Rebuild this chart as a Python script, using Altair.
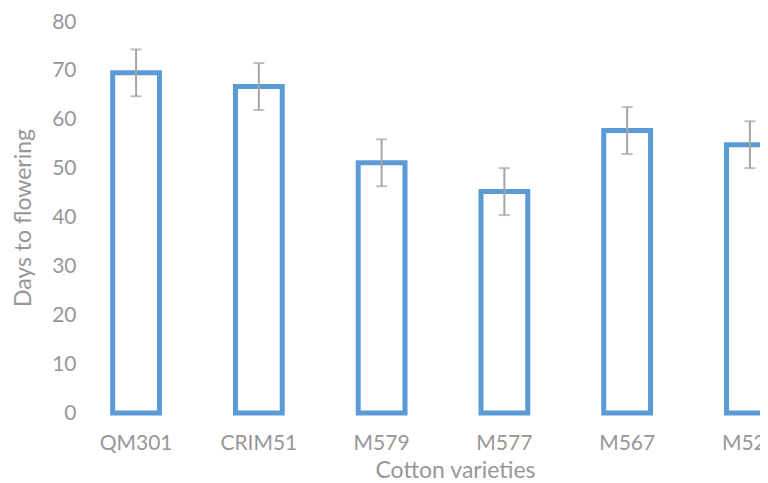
import altair as alt
import pandas as pd

varieties = ["QM301", "CRIM51", "M579", "M577", "M567", "M525"]
days = [69.6, 66.8, 51.2, 45.3, 57.8, 54.9]
errors = [4.8, 4.8, 4.8, 4.8, 4.8, 4.8]

df = pd.DataFrame({"variety": varieties, "days": days, "err": errors})
df["lo"] = df["days"] - df["err"]
df["hi"] = df["days"] + df["err"]

FONT = "Lato"
TXT = "#979797"
ERR = "#A5A5A5"

xscale = alt.Scale(paddingInner=0.619, paddingOuter=0.25, range=[0, 722])
x = alt.X("variety:N", sort=varieties, title="Cotton varieties", scale=xscale,
          axis=alt.Axis(labelAngle=0, domain=False, ticks=False, tickSize=0,
                        labelPadding=19, labelFontSize=21, labelColor=TXT,
                        labelFont=FONT, titleFont=FONT, titleFontSize=23,
                        titleColor=TXT, titleFontWeight="normal",
                        titleX=373, titleY=64, titleAlign="center",
                        titleBaseline="alphabetic"))
y_axis = alt.Axis(values=list(range(0, 81, 10)), domain=False, ticks=False, tickSize=0,
                  grid=False, labelPadding=6, labelFontSize=21, labelColor=TXT,
                  labelFont=FONT, titleFont=FONT, titleFontSize=23, titleColor=TXT,
                  titleFontWeight="normal", titlePadding=16)

bars = alt.Chart(df).mark_bar(fill="white", stroke="#5B9BD5", strokeWidth=5).encode(
    x=x,
    y=alt.Y("days:Q", title="Days to flowering", scale=alt.Scale(domain=[0, 80]), axis=y_axis),
)
rules = alt.Chart(df).mark_rule(color=ERR, strokeWidth=2).encode(
    x=alt.X("variety:N", sort=varieties), y="lo:Q", y2="hi:Q"
)
caps_lo = alt.Chart(df).mark_tick(color=ERR, orient="horizontal", size=11, thickness=2).encode(
    x=alt.X("variety:N", sort=varieties), y="lo:Q"
)
caps_hi = alt.Chart(df).mark_tick(color=ERR, orient="horizontal", size=11, thickness=2).encode(
    x=alt.X("variety:N", sort=varieties), y="hi:Q"
)

chart = alt.layer(bars, rules, caps_lo, caps_hi).properties(
    width=678, height=391,
    autosize=alt.AutoSizeParams(type="none"),
    padding={"left": 74, "top": 14, "right": 0, "bottom": 70},
).configure_view(stroke=None)

chart.save("out.html", embed_options={"renderer": "svg", "actions": False})
